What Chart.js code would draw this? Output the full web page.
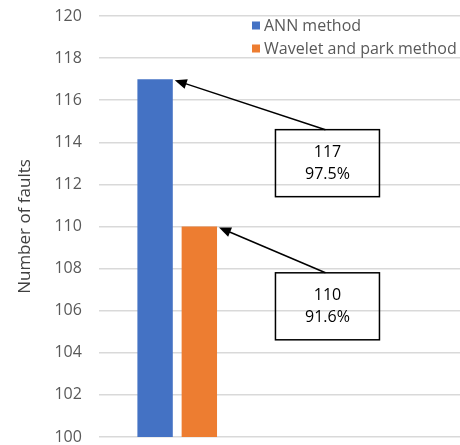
<!DOCTYPE html>
<html>
<head>
<meta charset="utf-8">
<script src="https://cdn.jsdelivr.net/npm/chart.js@4.4.1/dist/chart.umd.min.js"></script>
<style>
    html, body { margin: 0; padding: 0; background: #fff; }
</style>
</head>
<body>
<canvas id="faultChart" width="460" height="445"></canvas>
<script>
// chart data
const methods = ['ANN method', 'Wavelet and park method'];
const faultCounts = [117, 110];
const accuracy = ['97.5%', '91.6%'];
const barColors = ['#4472C4', '#ED7D31'];
const yMin = 100;
const yMax = 120;
const yStep = 2;

// where the single group of bars sits along the hidden x axis (0..1)
const groupPos = 0.217;

function drawArrow(ctx, x1, y1, x2, y2) {
    const ang = Math.atan2(y2 - y1, x2 - x1);
    const len = 12, half = 5;
    ctx.beginPath();
    ctx.moveTo(x1, y1);
    ctx.lineTo(x2 - Math.cos(ang) * len * 0.8, y2 - Math.sin(ang) * len * 0.8);
    ctx.stroke();
    ctx.beginPath();
    ctx.moveTo(x2, y2);
    ctx.lineTo(x2 - Math.cos(ang) * len - Math.sin(ang) * half, y2 - Math.sin(ang) * len + Math.cos(ang) * half);
    ctx.lineTo(x2 - Math.cos(ang) * len + Math.sin(ang) * half, y2 - Math.sin(ang) * len - Math.cos(ang) * half);
    ctx.closePath();
    ctx.fill();
}

// boxes with arrows pointing at the bar tops
const calloutPlugin = {
    id: 'callouts',
    afterDatasetsDraw(chart, args, opts) {
        const {ctx, chartArea, scales: {y}} = chart;
        ctx.save();
        ctx.strokeStyle = '#000';
        ctx.fillStyle = '#000';
        ctx.lineWidth = 1.5;
        faultCounts.forEach((v, i) => {
            const bar = chart.getDatasetMeta(i).data[0];
            const cx = chartArea.left + chartArea.width * opts.xFrac;
            const top = y.getPixelForValue(opts.tops[i]);
            ctx.strokeRect(cx - opts.w / 2, top, opts.w, opts.h);
            drawArrow(ctx, cx - 2, top, bar.x + bar.width / 2 + 2, bar.y + 1);
            ctx.font = '16px "Open Sans"';
            ctx.textAlign = 'center';
            ctx.textBaseline = 'middle';
            ctx.fillStyle = '#000';
            ctx.fillText(String(v), cx, top + 23);
            ctx.fillText(accuracy[i], cx, top + 45);
        });
        ctx.restore();
    }
};

// legend drawn inside the plot, top right
const innerLegend = {
    id: 'innerLegend',
    afterDraw(chart, args, opts) {
        const ctx = chart.ctx;
        ctx.save();
        ctx.font = '16px "Open Sans"';
        ctx.textBaseline = 'middle';
        ctx.textAlign = 'left';
        chart.data.datasets.forEach((ds, i) => {
            const yy = opts.y + i * opts.row;
            ctx.fillStyle = ds.backgroundColor;
            ctx.fillRect(opts.x, yy - 4, 8, 8);
            ctx.fillStyle = '#595959';
            ctx.fillText(ds.label, opts.x + 12, yy + 1);
        });
        ctx.restore();
    }
};

const ctx = document.getElementById('faultChart').getContext('2d');
const chart = new Chart(ctx, {
    type: 'bar',
    data: {
        datasets: methods.map((m, i) => ({
            label: m,
            data: [{x: groupPos, y: faultCounts[i]}],
            backgroundColor: barColors[i],
            categoryPercentage: 0.245,
            barPercentage: 0.8
        }))
    },
    options: {
        responsive: false,
        animation: false,
        devicePixelRatio: 1,
        layout: {padding: {left: 10, top: 16, bottom: 8, right: 0}},
        scales: {
            x: {
                type: 'linear',
                min: 0,
                max: 1,
                offset: false,
                display: false,
                ticks: {stepSize: 1}
            },
            y: {
                min: yMin,
                max: yMax,
                afterFit(scale) {
                    scale.paddingTop = 0;
                    scale.paddingBottom = 0;
                },
                ticks: {
                    stepSize: yStep,
                    color: '#595959',
                    padding: 17,
                    font: {family: 'Open Sans', size: 16}
                },
                grid: {color: '#d9d9d9', lineWidth: 1.5, drawTicks: false},
                border: {display: false},
                title: {
                    display: true,
                    text: 'Number of faults',
                    color: '#404040',
                    padding: {top: 5, bottom: 2},
                    font: {family: 'Open Sans', size: 17}
                }
            }
        },
        plugins: {
            legend: {display: false},
            tooltip: {enabled: false},
            callouts: {xFrac: 0.633, w: 104, h: 67, tops: [114.6, 107.8]},
            innerLegend: {x: 252, y: 25.5, row: 23}
        }
    },
    plugins: [calloutPlugin, innerLegend]
});
</script>
</body>
</html>
